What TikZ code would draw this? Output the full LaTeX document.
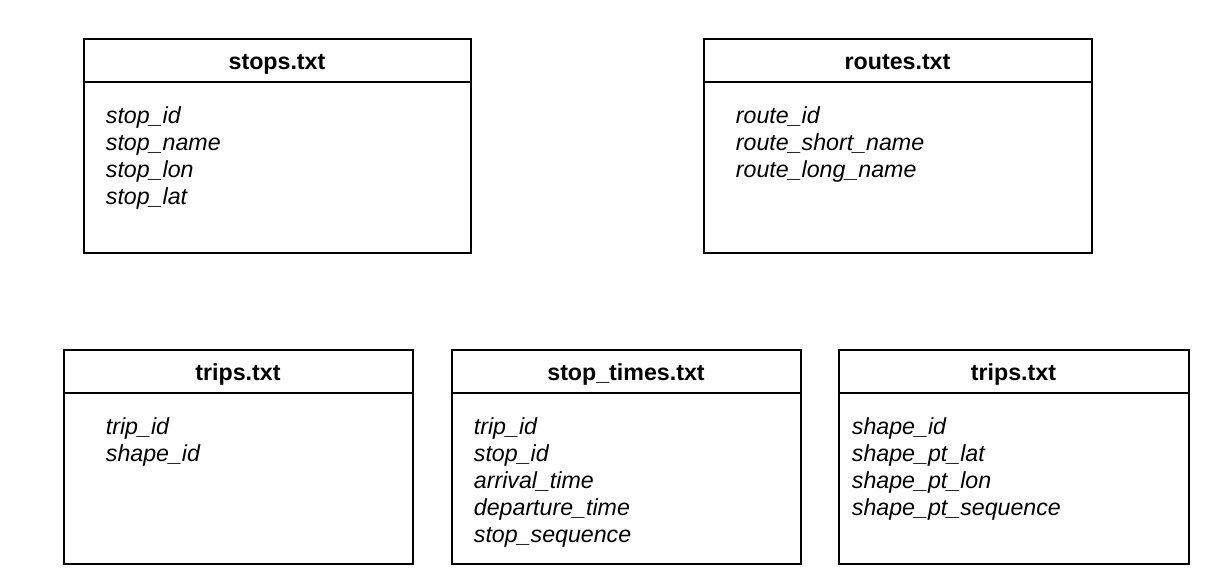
\documentclass[tikz,border=0pt]{standalone}
\usepackage{fontspec}
\setmainfont{Liberation Sans}
\usetikzlibrary{positioning}

\begin{document}
\begin{tikzpicture}[x=0.5pt,y=-0.5pt]

\tikzset{file box/.style={
		draw,
		line width=1pt,
		anchor=north west,
		minimum width=#1,
		minimum height=107pt,
		inner sep=0pt
	},
	file box/.default=174.5pt,
	file title/.style={anchor=base, inner sep=0pt, font=\fontsize{11.6}{13.5}\selectfont\bfseries},
	field/.style={anchor=base west, inner sep=0pt, font=\fontsize{11.6}{13.5}\selectfont\itshape},
	header rule/.style={line width=1pt}
}
\useasboundingbox (0,0) rectangle (1232,581);

% top row
\node[file box=193.5pt] (stops) at (82.5,38.5) {};
\node[file box=194pt] (routes) at (702.5,38.5) {};
% bottom row
\node[file box] (trips) at (62.5,349.5) {};
\node[file box] (stoptimes) at (450.5,349.5) {};
\node[file box=175pt] (shapes) at (837.5,349.5) {};

\foreach \tbl/\name in {stops/stops.txt, routes/routes.txt, trips/trips.txt, stoptimes/stop\_times.txt, shapes/trips.txt}{
	\draw[header rule] ([yshift=-22pt]\tbl.north west) -- ([yshift=-22pt]\tbl.north east);
	\node[file title] (\tbl-title) at ([yshift=-15.5pt]\tbl.north) {\name};
}

\foreach \f [count=\i from 0] in {stop\_id, stop\_name, stop\_lon, stop\_lat}
	\node[field] (stops-\i) at ([xshift=11.5pt, yshift={-(42.5+13.5*\i)*1pt}]stops.north west) {\f};
\foreach \f [count=\i from 0] in {route\_id, route\_short\_name, route\_long\_name}
	\node[field] (routes-\i) at ([xshift=16.5pt, yshift={-(42.5+13.5*\i)*1pt}]routes.north west) {\f};
\foreach \f [count=\i from 0] in {trip\_id, shape\_id}
	\node[field] (trips-\i) at ([xshift=21.5pt, yshift={-(42.5+13.5*\i)*1pt}]trips.north west) {\f};
\foreach \f [count=\i from 0] in {trip\_id, stop\_id, arrival\_time, departure\_time, stop\_sequence}
	\node[field] (stoptimes-\i) at ([xshift=11.5pt, yshift={-(42.5+13.5*\i)*1pt}]stoptimes.north west) {\f};
\foreach \f [count=\i from 0] in {shape\_id, shape\_pt\_lat, shape\_pt\_lon, shape\_pt\_sequence}
	\node[field] (shapes-\i) at ([xshift=7pt, yshift={-(42.5+13.5*\i)*1pt}]shapes.north west) {\f};

\end{tikzpicture}
\end{document}
